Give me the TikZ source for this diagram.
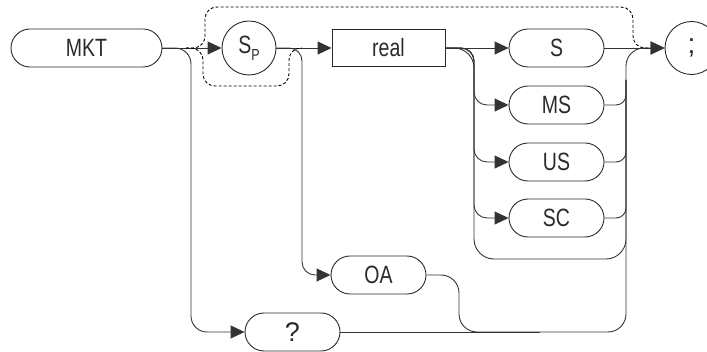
\documentclass[tikz,border=0pt]{standalone}
\usepackage{fontspec}
\setmainfont{Liberation Sans}
\newfontfamily\railfont[FakeStretch=0.78]{Liberation Sans}
\usetikzlibrary{arrows.meta,calc,positioning}
\definecolor{ink}{HTML}{2A2A2A}
\definecolor{rule}{HTML}{333333}
\tikzset{>={Triangle[length=14pt,width=13pt]},
  every node/.style={font=\railfont\fontsize{25}{27}\selectfont,text=ink},
  rail/.style={draw=rule,line width=.9pt,rounded corners=14pt},
  optrail/.style={draw=black,line width=.9pt,dash pattern=on 3pt off 2pt,rounded corners=12pt},
  keyword/.style={draw=ink,line width=.9pt,rounded corners=19pt,minimum width=95pt,minimum height=38pt,inner sep=0pt},
  param/.style={draw=ink,line width=.9pt,minimum width=113pt,minimum height=37pt,inner sep=0pt},
  symbol/.style={circle,draw=ink,line width=.9pt,minimum size=54pt,inner sep=0pt}}
\begin{document}
\begin{tikzpicture}[x=1pt,y=-1pt]
\path[use as bounding box,clip] (0,0) rectangle (707,352);
\node[keyword,minimum width=151pt] (mkt) at (86.5,48) {MKT};
\node[symbol] (sp) at (249,48) {S\raisebox{-.55ex}{\fontsize{16}{16}\selectfont P}};
\node[param] (real) at (388.5,48) {real};
\node[keyword] (s) at (556.5,48) {S};
\node[keyword] (ms) at (556.5,105) {MS};
\node[keyword] (us) at (556.5,162) {US};
\node[keyword] (sc) at (556.5,218) {SC};
\node[keyword] (oa) at (378.5,275) {OA};
\node[keyword,font=\fontsize{27}{29}\selectfont] (qry) at (292.5,332) {?};
\node[symbol,minimum size=53pt,font=\fontsize{28}{30}\selectfont] (semi) at (691.5,48) {;};
\coordinate (forkA) at (191,48);\coordinate (forkB) at (302,48);
\coordinate (forkC) at (474,48);\coordinate (joinR) at (626,48);
\coordinate (joinLow) at (626,80);\coordinate (oaDrop) at (459,332);
\coordinate (unitsBot) at (550,259);\coordinate (botRail) at (540,332);
\coordinate (skipIn) at (186,48);\coordinate (hopL) at (205,7);
\coordinate (hopR) at (633,48);\coordinate (skipOut) at (650,48);
\coordinate (dipL) at (203,86);\coordinate (dipR) at (289,48);
\coordinate (dipOut) at (302,48);
\draw[rail,->] (mkt.east) -- (sp.west);
\draw[rail,->,rounded corners=16pt] (mkt.east) -- (forkA) |- (qry.west);
\draw[rail,->] (sp.east) -- (real.west);
\draw[rail,->,rounded corners=13pt] (sp.east) -- (forkB) |- (oa.west);
\draw[rail,->] (real.east) -- (s.west);
\foreach \u in {ms,us,sc}{\draw[rail,->,rounded corners=13pt] (real.east) -- (forkC) |- (\u.west);
  \draw[rail,rounded corners=10pt] (\u.east) -| (joinLow);}
\draw[rail,rounded corners=20pt] (real.east) -- (forkC) |- (unitsBot) -| (joinLow);
\draw[rail,->] (s.east) -- (semi.west);
\draw[rail,->,rounded corners=18pt] (oa.east) -| (oaDrop) -- (botRail) -| (joinR) -- (semi.west);
\draw[rail] (qry.east) -- (botRail);
\draw[optrail] (skipIn) -| (hopL) -| (hopR) -- (skipOut);
\draw[optrail] (skipIn) -| (dipL) -| (dipR) -- (dipOut);
\end{tikzpicture}
\end{document}
